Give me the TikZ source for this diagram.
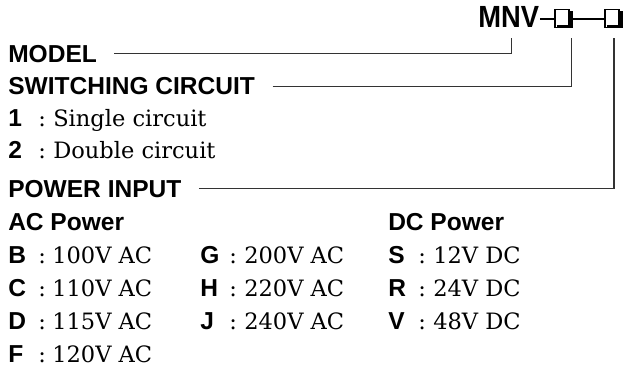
\documentclass[tikz,border=0pt]{standalone}
\usepackage{fontspec}
\setsansfont{Liberation Sans}
\newfontfamily\schfont{DejaVu Serif}
\usepackage{graphicx}
\usetikzlibrary{calc}
\tikzset{
  hd/.style={font=\sffamily\bfseries\fontsize{18.4}{20}\selectfont, inner sep=0pt, anchor=base west, text height=13.2pt, text depth=0pt},
  ttl/.style={font=\sffamily\bfseries\fontsize{20.5}{22}\selectfont, inner sep=0pt, anchor=base west, text height=16.4pt, text depth=0pt},
  txt/.style={font=\schfont\fontsize{16.9}{19}\selectfont, inner sep=0pt, anchor=base west},
  sbox/.style={draw, line width=1pt, minimum width=10.5pt, minimum height=13.5pt, inner sep=0pt},
  shad/.style={line width=2.1pt},
  dsh/.style={line width=2.1pt},
  conn/.style={line width=0.8pt, black!80},
}
\begin{document}
\begin{tikzpicture}[x=0.75pt,y=-0.75pt]
\useasboundingbox (0,0) rectangle (624,370);
% title
\node[ttl] (mnv) at (478,27.5) {\scalebox{1}[1.12]{MNV}};
\node[sbox] (b1) at (562,18.5) {};
\node[sbox] (b2) at (612,18.5) {};
\draw[shad] ($(b1.north east)+(1.7,2.5)$) -- ($(b1.south east)+(1.7,-1.7)$) -- ($(b1.south west)+(2.5,-1.7)$);
\draw[shad] ($(b2.north east)+(1.7,2.5)$) -- ($(b2.south east)+(1.7,-1.7)$) -- ($(b2.south west)+(2.5,-1.7)$);
\coordinate (dy) at ($(mnv.east)+(1,2.5)$);
\draw[dsh] (dy) -- (b1.west |- dy);
\draw[dsh] ($(b1.east |- dy)+(3,0)$) -- (b2.west |- dy);
\coordinate (v1) at (511.7,38);
\coordinate (v2) at (571.7,38);
\coordinate (v3) at (614,38);
% left texts
\node[hd] (model) at (8,62.7) {MODEL};
\node[hd] (sw) at (8,95) {SWITCHING CIRCUIT};
\node[hd] (k1) at (8,127) {1};
\node[txt] (c1) at (38,127) {:};
\node[txt] (t1) at (53,127) {Single circuit};
\node[hd] (k2) at (8,159) {2};
\node[txt] (c2) at (38,159) {:};
\node[txt] (t2) at (53,159) {Double circuit};
\node[hd] (pw) at (8,197.3) {POWER INPUT};
% connectors
\draw[conn] ([xshift=13]model.east) -| (v1);
\draw[conn] ([xshift=13]sw.east) -| (v2);
\draw[conn] ([xshift=13]pw.east) -| (v3);
% power table
\node[hd] (ac) at (8,230) {AC Power};
\node[hd] (dc) at (388,230) {DC Power};
\foreach \k/\v/\y in {B/100V AC/263, C/110V AC/296, D/115V AC/329, F/120V AC/362}{
  \node[hd] (k\k) at (8,\y) {\k};
  \node[txt] (c\k) at (38,\y) {:};
  \node[txt] (v\k) at (52,\y) {\v};
}
\foreach \k/\v/\y in {G/200V AC/263, H/220V AC/296, J/240V AC/329}{
  \node[hd] (k\k) at (200,\y) {\k};
  \node[txt] (c\k) at (229,\y) {:};
  \node[txt] (v\k) at (244,\y) {\v};
}
\foreach \k/\v/\y in {S/12V DC/263, R/24V DC/296, V/48V DC/329}{
  \node[hd] (k\k) at (388,\y) {\k};
  \node[txt] (c\k) at (418,\y) {:};
  \node[txt] (v\k) at (433,\y) {\v};
}
\end{tikzpicture}
\end{document}
